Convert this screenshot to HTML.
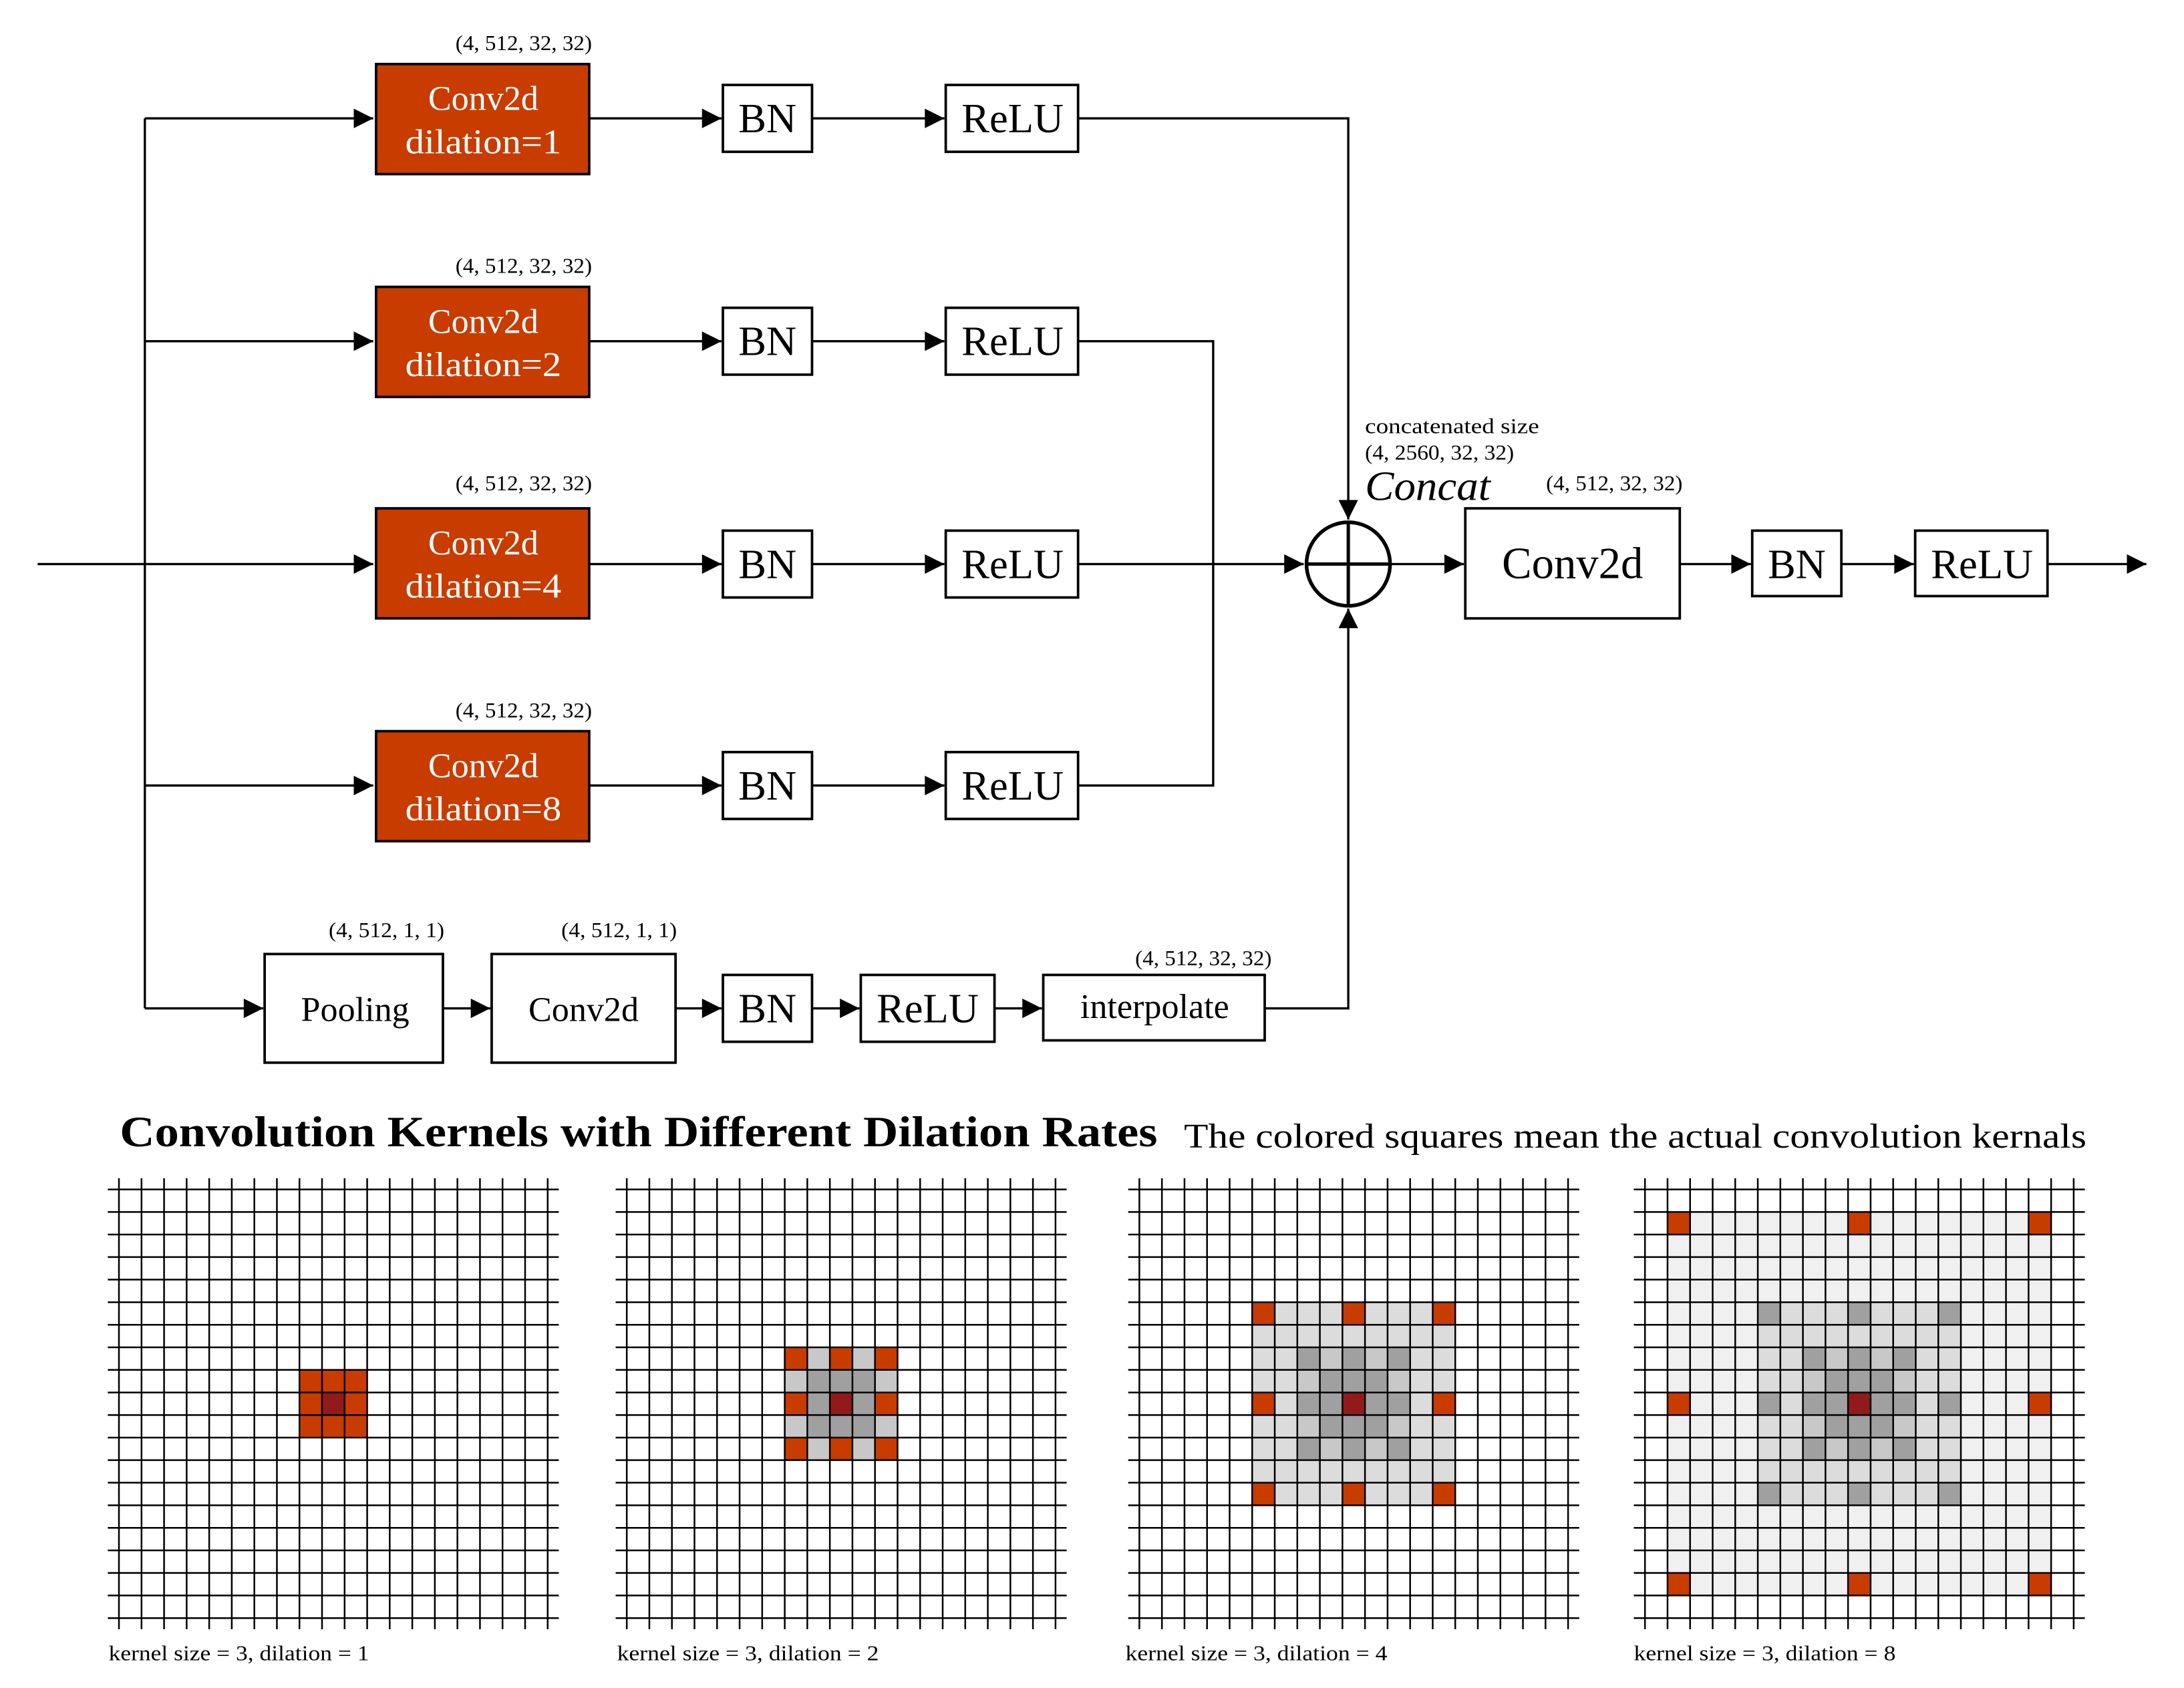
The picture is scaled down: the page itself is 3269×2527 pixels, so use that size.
<!DOCTYPE html>
<html><head><meta charset="utf-8"><style>
html,body{margin:0;padding:0;background:#fff;}
svg{display:block;}
text{font-family:"Liberation Serif",serif;fill:#000;}
</style></head><body>
<svg id="s" width="3269" height="2527" viewBox="0 0 1568 1212" preserveAspectRatio="none" xmlns="http://www.w3.org/2000/svg">
<defs>
<marker id="a" viewBox="0 0 10 10" refX="10" refY="5" markerWidth="18" markerHeight="14" markerUnits="userSpaceOnUse" orient="auto">
<path d="M0,0 L10,5 L0,10 z" fill="#000"/></marker>
</defs>
<g stroke="#000" stroke-width="1.6" fill="none">
<line x1="27" y1="405" x2="268" y2="405" marker-end="url(#a)"/>
<line x1="104" y1="85" x2="104" y2="724"/>
<line x1="104" y1="85" x2="268" y2="85" marker-end="url(#a)"/>
<line x1="104" y1="245" x2="268" y2="245" marker-end="url(#a)"/>
<line x1="104" y1="564" x2="268" y2="564" marker-end="url(#a)"/>
<line x1="104" y1="724" x2="189" y2="724" marker-end="url(#a)"/>
<line x1="423" y1="85" x2="518" y2="85" marker-end="url(#a)"/>
<line x1="583" y1="85" x2="678" y2="85" marker-end="url(#a)"/>
<line x1="423" y1="245" x2="518" y2="245" marker-end="url(#a)"/>
<line x1="583" y1="245" x2="678" y2="245" marker-end="url(#a)"/>
<line x1="423" y1="405" x2="518" y2="405" marker-end="url(#a)"/>
<line x1="583" y1="405" x2="678" y2="405" marker-end="url(#a)"/>
<line x1="423" y1="564" x2="518" y2="564" marker-end="url(#a)"/>
<line x1="583" y1="564" x2="678" y2="564" marker-end="url(#a)"/>
<polyline points="774,85 968,85 968,373" marker-end="url(#a)"/>
<polyline points="774,245 871,245 871,564 774,564"/>
<line x1="774" y1="405" x2="936" y2="405" marker-end="url(#a)"/>
<line x1="318" y1="724" x2="352" y2="724" marker-end="url(#a)"/>
<line x1="485" y1="724" x2="518" y2="724" marker-end="url(#a)"/>
<line x1="583" y1="724" x2="617" y2="724" marker-end="url(#a)"/>
<line x1="714" y1="724" x2="748" y2="724" marker-end="url(#a)"/>
<polyline points="908,724 968,724 968,437" marker-end="url(#a)"/>
<line x1="999" y1="405" x2="1051" y2="405" marker-end="url(#a)"/>
<line x1="1206" y1="405" x2="1257" y2="405" marker-end="url(#a)"/>
<line x1="1322" y1="405" x2="1374" y2="405" marker-end="url(#a)"/>
<line x1="1470" y1="405" x2="1541" y2="405" marker-end="url(#a)"/>
<circle cx="968" cy="405" r="30" stroke-width="2.6"/>
<line x1="938" y1="405" x2="998" y2="405" stroke-width="2.4"/>
<line x1="968" y1="375" x2="968" y2="435" stroke-width="2.4"/>
</g>
<g stroke="#000" stroke-width="1.8">
<rect x="270" y="46" width="153" height="79" fill="#c83c00"/>
<rect x="270" y="206" width="153" height="79" fill="#c83c00"/>
<rect x="270" y="365" width="153" height="79" fill="#c83c00"/>
<rect x="270" y="525" width="153" height="79" fill="#c83c00"/>
<g fill="#fff">
<rect x="519" y="61" width="64" height="48"/><rect x="679" y="61" width="95" height="48"/>
<rect x="519" y="221" width="64" height="48"/><rect x="679" y="221" width="95" height="48"/>
<rect x="519" y="381" width="64" height="48"/><rect x="679" y="381" width="95" height="48"/>
<rect x="519" y="540" width="64" height="48"/><rect x="679" y="540" width="95" height="48"/>
<rect x="190" y="685" width="128" height="78"/><rect x="353" y="685" width="132" height="78"/>
<rect x="519" y="700" width="64" height="48"/><rect x="618" y="700" width="96" height="48"/>
<rect x="749" y="700" width="159" height="47"/>
<rect x="1052" y="365" width="154" height="79"/>
<rect x="1258" y="381" width="64" height="47"/><rect x="1375" y="381" width="95" height="47"/>
</g></g>
<g font-size="25" text-anchor="middle">
<text x="347" y="79" style="fill:#fff">Conv2d</text><text x="347" y="110" style="fill:#fff" textLength="112" lengthAdjust="spacingAndGlyphs">dilation=1</text>
<text x="347" y="239" style="fill:#fff">Conv2d</text><text x="347" y="270" style="fill:#fff" textLength="112" lengthAdjust="spacingAndGlyphs">dilation=2</text>
<text x="347" y="398" style="fill:#fff">Conv2d</text><text x="347" y="429" style="fill:#fff" textLength="112" lengthAdjust="spacingAndGlyphs">dilation=4</text>
<text x="347" y="558" style="fill:#fff">Conv2d</text><text x="347" y="589" style="fill:#fff" textLength="112" lengthAdjust="spacingAndGlyphs">dilation=8</text>
</g>
<g font-size="30" text-anchor="middle">
<text x="551" y="95">BN</text><text x="727" y="95">ReLU</text>
<text x="551" y="255">BN</text><text x="727" y="255">ReLU</text>
<text x="551" y="415">BN</text><text x="727" y="415">ReLU</text>
<text x="551" y="574">BN</text><text x="727" y="574">ReLU</text>
<text x="551" y="734">BN</text><text x="666" y="734">ReLU</text>
<text x="1290" y="415">BN</text><text x="1423" y="415">ReLU</text>
<text x="1129" y="415" font-size="32">Conv2d</text>
</g>
<g font-size="25" text-anchor="middle">
<text x="255" y="733">Pooling</text><text x="419" y="733">Conv2d</text><text x="829" y="731">interpolate</text>
</g>
<g font-size="15">
<text x="327" y="36" textLength="98" lengthAdjust="spacingAndGlyphs">(4, 512, 32, 32)</text>
<text x="327" y="196" textLength="98" lengthAdjust="spacingAndGlyphs">(4, 512, 32, 32)</text>
<text x="327" y="352" textLength="98" lengthAdjust="spacingAndGlyphs">(4, 512, 32, 32)</text>
<text x="327" y="515" textLength="98" lengthAdjust="spacingAndGlyphs">(4, 512, 32, 32)</text>
<text x="236" y="673" textLength="83" lengthAdjust="spacingAndGlyphs">(4, 512, 1, 1)</text>
<text x="403" y="673" textLength="83" lengthAdjust="spacingAndGlyphs">(4, 512, 1, 1)</text>
<text x="815" y="693" textLength="98" lengthAdjust="spacingAndGlyphs">(4, 512, 32, 32)</text>
<text x="1110" y="352" textLength="98" lengthAdjust="spacingAndGlyphs">(4, 512, 32, 32)</text>
<text x="980" y="311" textLength="125" lengthAdjust="spacingAndGlyphs">concatenated size</text>
<text x="980" y="330" textLength="107" lengthAdjust="spacingAndGlyphs">(4, 2560, 32, 32)</text>
</g>
<text x="980" y="359" font-size="30" font-style="italic" textLength="90" lengthAdjust="spacingAndGlyphs">Concat</text>
<text x="86" y="823" font-size="31" font-weight="bold" textLength="745" lengthAdjust="spacingAndGlyphs">Convolution Kernels with Different Dilation Rates</text>
<text x="850" y="824" font-size="25" textLength="648" lengthAdjust="spacingAndGlyphs">The colored squares mean the actual convolution kernals</text>
<g font-size="15">
<text x="78" y="1192" textLength="187" lengthAdjust="spacingAndGlyphs">kernel size = 3, dilation = 1</text>
<text x="443" y="1192" textLength="188" lengthAdjust="spacingAndGlyphs">kernel size = 3, dilation = 2</text>
<text x="808" y="1192" textLength="188" lengthAdjust="spacingAndGlyphs">kernel size = 3, dilation = 4</text>
<text x="1173" y="1192" textLength="188" lengthAdjust="spacingAndGlyphs">kernel size = 3, dilation = 8</text>
</g>
<g id="grids"></g>
</svg>
<script>
(function(){
var ns="http://www.w3.org/2000/svg",g=document.getElementById("grids");
var xs=[85.4,450,818,1181],y0=854,c=16.2,n=19;
function el(t,a){var e=document.createElementNS(ns,t);for(var k in a)e.setAttribute(k,a[k]);g.appendChild(e);return e;}
var OR="#c83c00",DR="#921a1a",A0="#a0a0a0",C8="#c8c8c8",DC="#dcdcdc",F0="#f0f0f0";
function pts(d){var r=[];[-1,0,1].forEach(function(i){[-1,0,1].forEach(function(j){r.push([9+i*d,9+j*d]);});});return r;}
for(var k=0;k<4;k++){
  var x0=xs[k],cell={};
  function fill(a,b,col){for(var i=a;i<=b;i++)for(var j=a;j<=b;j++)cell[i+","+j]=col;}
  function setp(d,col){pts(d).forEach(function(p){cell[p[0]+","+p[1]]=col;});}
  var D=[1,2,4,8][k];
  if(D>=8){fill(1,17,F0);}
  if(D>=4){fill(5,13,DC); if(D>4)setp(4,A0);}
  if(D>=2){fill(7,11,C8); if(D>2)setp(2,A0); fill(8,10,A0);}
  setp(D,OR);
  if(D==1)fill(8,10,OR);
  cell["9,9"]=DR;
  for(var key in cell){var p=key.split(",");el("rect",{x:x0+p[1]*c,y:y0+p[0]*c,width:c,height:c,fill:cell[key]});}
  for(var i=0;i<=n;i++){
    el("line",{x1:x0+i*c,y1:y0-8,x2:x0+i*c,y2:y0+n*c+8,stroke:"#000","stroke-width":1.2});
    el("line",{x1:x0-8,y1:y0+i*c,x2:x0+n*c+8,y2:y0+i*c,stroke:"#000","stroke-width":1.2});
  }
}
})();
</script>
</body></html>
